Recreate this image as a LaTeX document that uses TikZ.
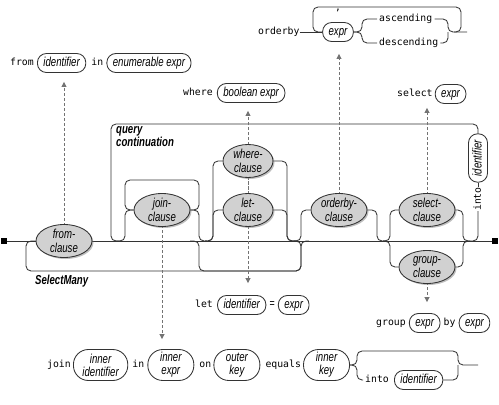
\documentclass[tikz,border=0pt]{standalone}
\usepackage{fontspec}
\newfontfamily\railfont{Liberation Sans}[FakeStretch=0.74]
\setmonofont{DejaVu Sans Mono}
\usetikzlibrary{positioning,shapes.geometric,shadows,arrows.meta,backgrounds}

\tikzset{
  rail/.style={draw=black!80, line width=0.85pt, rounded corners=5pt},
  peek/.style={draw=black!55, line width=0.75pt, dash pattern=on 3pt off 2pt,
    -{Triangle[length=5pt,width=5pt]}},
  clause/.style={ellipse, draw=black!80, line width=0.85pt, fill=black!18,
    drop shadow={shadow xshift=1.5pt, shadow yshift=-1.5pt, fill=black!50, opacity=.5},
    minimum width=56pt, minimum height=33pt, inner sep=0pt, align=center,
    font=\railfont\itshape\fontsize{13}{13.5}\selectfont},
  term/.style={draw=black!80, line width=0.85pt, rounded corners=9pt, minimum height=19pt,
    inner xsep=6pt, inner ysep=0pt, text height=9.5pt, text depth=2.5pt,
    font=\railfont\itshape\fontsize{13}{13}\selectfont},
  term2/.style={term, rounded corners=15pt, minimum height=31pt, minimum width=46pt,
    inner xsep=9pt, align=center, text height=, text depth=},
  kw/.style={inner sep=0pt, text height=7.5pt, text depth=2pt,
    font=\ttfamily\fontsize{9.8}{12}\selectfont},
  terminal/.style={fill=black, minimum size=6pt, inner sep=0pt}
}

\begin{document}
\begin{tikzpicture}[x=1pt, y=-1pt]
    \useasboundingbox (0,0) rectangle (499,405);

    % Clauses along the main line
    \node[clause] (from) at (64,241) {from-\\clause};
    \node[clause] (join) at (162,210) {join-\\clause};
    \node[clause, minimum width=50pt] (where) at (248,161) {where-\\clause};
    \node[clause, minimum width=50pt] (let) at (248,210) {let-\\clause};
    \node[clause] (orderby) at (339,210) {orderby-\\clause};
    \node[clause] (select) at (427,210) {select-\\clause};
    \node[clause] (group) at (427,267) {group-\\clause};

    % Start and end of the main line
    \node[terminal] (start) at (4,241) {};
    \node[terminal] (stop) at (495,241) {};

    % Labels of the two loops
    \node[anchor=north west, align=left, inner sep=0pt,
      font=\railfont\bfseries\itshape\fontsize{13}{13.5}\selectfont] (qclabel) at (116,126) {query\\continuation};
    \node[anchor=west, inner sep=0pt,
      font=\railfont\bfseries\itshape\fontsize{13}{13}\selectfont] (smlabel) at (35,281) {SelectMany};

    % into identifier on the continuation loop
    \node[kw, rotate=90] (into) at (478,199) {into};
    \node[term, rotate=90] (intoid) at (478,158) {identifier};

    % from row
    \node[kw, anchor=west] (fromkw) at (10,63) {from};
    \node[term, right=3pt of fromkw] (fromid) {identifier};
    \node[kw, right=5pt of fromid] (fromin) {in};
    \node[term, right=3pt of fromin] (enumexpr) {enumerable expr};

    % where row
    \node[kw, anchor=west] (wherekw) at (183,93) {where};
    \node[term, right=4pt of wherekw] (boolexpr) {boolean expr};

    % orderby row
    \node[kw, anchor=west] (orderbykw) at (258,32) {orderby};
    \node[term] (obexpr) at (338,32) {expr};
    \node[kw, anchor=base] (comma) at (338,10) {,};
    \node[kw, anchor=west, inner xsep=2pt] (asc) at (377,19) {ascending};
    \node[kw, anchor=west, inner xsep=2pt] (desc) at (377,43) {descending};

    % select row
    \node[kw, anchor=west] (selectkw) at (397,94) {select};
    \node[term, right=2pt of selectkw] (selexpr) {expr};

    % let row
    \node[kw, anchor=west] (letkw) at (195,305) {let};
    \node[term, right=4pt of letkw] (letid) {identifier};
    \node[inner sep=0pt, right=3pt of letid, font=\railfont\fontsize{12}{13}\selectfont] (eq) {=};
    \node[term, right=3pt of eq] (letexpr) {expr};

    % group row
    \node[kw, anchor=west] (groupkw) at (376,323) {group};
    \node[term, right=3pt of groupkw] (grpexpr) {expr};
    \node[kw, right=3pt of grpexpr] (bykw) {by};
    \node[term, right=3pt of bykw] (byexpr) {expr};

    % join row
    \node[kw, anchor=west] (joinkw) at (47,365) {join};
    \node[term2, right=2pt of joinkw] (innerid) {inner\\identifier};
    \node[kw, right=4pt of innerid] (joinin) {in};
    \node[term2, right=3pt of joinin] (innerexpr) {inner\\expr};
    \node[kw, right=5pt of innerexpr] (onkw) {on};
    \node[term2, right=2pt of onkw] (outerkey) {outer\\key};
    \node[kw, right=5pt of outerkey] (equalskw) {equals};
    \node[term2, right=2pt of equalskw] (innerkey) {inner\\key};
    \node[kw, anchor=west, inner xsep=2pt] (jinto) at (363,380) {into};
    \node[term, right=3pt of jinto] (jintoid) {identifier};

    % Junction points
    \coordinate (smin) at (292,241);
    \coordinate (wlin) at (190,241);
    \coordinate (wlout) at (309,241);
    \coordinate (joinin) at (116,241);
    \coordinate (joinout) at (207,241);
    \coordinate (wll) at (205,241);
    \coordinate (wlr) at (296,241);
    \coordinate (obl) at (294,241);
    \coordinate (obr) at (385,241);
    \coordinate (sgl) at (383,241);
    \coordinate (sgr) at (470,241);
    \coordinate (qcout) at (120,241);
    \coordinate (obend) at (467,32);
    \coordinate (obloop) at (454,32);
    \coordinate (jend) at (478,365);

    \begin{scope}[on background layer]
        % Main line
        \draw[rail] (start) -- (stop);

        % SelectMany loop and the bypass under where/let
        \draw[rail] (smin) -| (301,271) -| (26,241) -- (from.west);
        \draw[rail] (wlin) -| (199,271) -| (301,241) -- (wlout);

        % query continuation loop
        \draw[rail] (sgr) -| (into.west);
        \draw[rail] (into.east) -- (intoid.west);
        \draw[rail] (intoid.east) |- (111,124) |- (qcout);

        % join-clause, repeated
        \draw[rail] (joinin) -| (125,210) -- (join.west);
        \draw[rail] (join.east) -| (199,180) -| (125,210) -- (join.west);
        \draw[rail] (join.east) -| (199,241) -- (joinout);

        % where-clause or let-clause
        \draw[rail] (wll) -| (213,161) -- (where.west);
        \draw[rail] (wll) -| (213,210) -- (let.west);
        \draw[rail] (where.east) -| (287,241) -- (wlr);
        \draw[rail] (let.east) -| (287,241) -- (wlr);

        % optional orderby-clause
        \draw[rail] (obl) -| (301,210) -- (orderby.west);
        \draw[rail] (orderby.east) -| (377,241) -- (obr);

        % select-clause or group-clause
        \draw[rail] (sgl) -| (390,210) -- (select.west);
        \draw[rail] (sgl) -| (390,267) -- (group.west);
        \draw[rail] (select.east) -| (463,241) -- (sgr);
        \draw[rail] (group.east) -| (463,241) -- (sgr);

        % orderby row
        \draw[rail] (orderbykw.east) -- (obexpr.west);
        \draw[rail] (obexpr.east) -| (362,19) -- (asc.west);
        \draw[rail] (obexpr.east) -| (362,43) -- (desc.west);
        \draw[rail] (asc.east) -| (448,32) -- (obend);
        \draw[rail] (desc.east) -| (448,32);
        \draw[rail] (obloop) -| (461,7) -| (313,32) -- (obexpr.west);

        % join row
        \draw[rail] (innerkey.east) -| (357,351) -| (458,365) -- (jend);
        \draw[rail] (innerkey.east) -| (357,380) -- (jinto.west);
        \draw[rail] (jintoid.east) -| (458,365);

        % Dashed arrows to the clause syntax
        \draw[peek, shorten >=9pt] (from.center) -- (from.center |- fromid.south);
        \draw[peek, shorten >=8pt] (let.center) -- (let.center |- boolexpr.south);
        \draw[peek, shorten >=12pt] (where.center) -- (where.center |- letid.north);
        \draw[peek, shorten >=10pt] (join.center) -- (join.center |- innerexpr.north);
        \draw[peek, shorten >=12pt] (orderby.center) -- (orderby.center |- obexpr.south);
        \draw[peek, shorten >=4pt] (select.center) -- (select.center |- selexpr.south);
        \draw[peek, shorten >=11pt] (group.center) -- (group.center |- grpexpr.north);
    \end{scope}
\end{tikzpicture}
\end{document}
